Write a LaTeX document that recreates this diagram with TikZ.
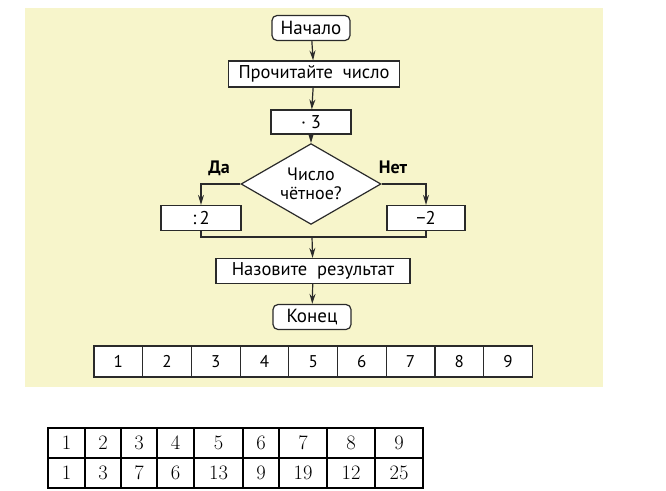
\documentclass[tikz,border=0pt]{standalone}
\usepackage{fontspec}
\newfontfamily\flowfont{PT Sans}
\usetikzlibrary{shapes.geometric,arrows.meta}
\definecolor{paper}{HTML}{F7F5CB}
\definecolor{ink}{HTML}{2A2A2A}
\begin{document}
\begin{tikzpicture}[
  x=1pt, y=-1pt, line width=1.2pt, draw=ink,
  term/.style={rectangle, rounded corners=5pt, draw=ink, fill=white, minimum width=78pt, minimum height=25pt, inner sep=1pt, font=\flowfont\fontsize{19}{21}\selectfont},
  act/.style={rectangle, draw=ink, fill=white, minimum height=26pt, inner sep=1pt, font=\flowfont\fontsize{18.5}{20}\selectfont},
  cond/.style={diamond, draw=ink, fill=white, minimum width=140pt, minimum height=54pt, inner sep=-3pt, align=center, font=\flowfont\fontsize{18}{18.5}\selectfont},
  tag/.style={font=\flowfont\bfseries\fontsize{18}{20}\selectfont},
  flow/.style={draw=ink, -{Stealth[length=10pt, width=6pt]}},
  topcell/.style={rectangle, draw=ink, minimum width=48.7pt, minimum height=31pt, inner sep=0pt, font=\flowfont\fontsize{17}{19}\selectfont},
  numcell/.style={rectangle, draw=black, line width=1.3pt, minimum height=30pt, inner sep=0pt, font=\fontsize{20.5}{22}\selectfont}
]
  \useasboundingbox (0,0) rectangle (666,490);
  \fill[paper] (25,8) rectangle (603,387);

  \node[term] (start) at (311,28) {Начало};
  \node[act, minimum width=171pt] (read) at (314,74) {Прочитайте\ \ число};
  \node[act, minimum width=80pt, minimum height=24pt] (mul) at (311,122) {· 3};
  \node[cond] (even) at (311,184) {Число\\чётное?};
  \node[act, minimum width=80pt, minimum height=25pt] (div) at (201,218) {:\,2};
  \node[act, minimum width=78pt, minimum height=25pt] (sub) at (426,218) {−2};
  \coordinate (join) at (312,237);
  \node[act, minimum width=194pt, minimum height=25pt] (res) at (313,271) {Назовите\ \ результат};
  \node[term] (end) at (312,317) {Конец};

  \node[tag] (yes) at (219,168) {Да};
  \node[tag] (no) at (393,167) {Нет};

  \draw[flow] (start) -- (read);
  \draw[flow] (read) -- (mul);
  \draw[flow] (mul) -- (even);
  \draw[flow] (even.west) -| (div.north);
  \draw[flow] (even.east) -| (sub.north);
  \draw (div.south) |- (join) -| (sub.south);
  \draw[flow] (join) -- (res);
  \draw[flow] (res) -- (end);

  % numbers under the scheme
  \foreach \v [count=\i] in {1,...,9}
    \node[topcell, fill=white] (t\i) at ({94+48.7*(\i-0.5)},361.5) {\v};

  % answer table
  \foreach \xa/\xb/\va/\vb [count=\i] in {48/85/1/1, 85/121/2/3, 121/157/3/7, 157/194/4/6, 194/243/5/13, 243/279/6/9, 279/327/7/19, 327/375/8/12, 375/423/9/25} {
    \pgfmathsetmacro\w{\xb-\xa}
    \node[numcell, minimum width=\w pt] (a\i) at ({(\xa+\xb)/2},443) {\va};
    \node[numcell, minimum width=\w pt] (b\i) at ({(\xa+\xb)/2},473) {\vb};
  }
\end{tikzpicture}
\end{document}
